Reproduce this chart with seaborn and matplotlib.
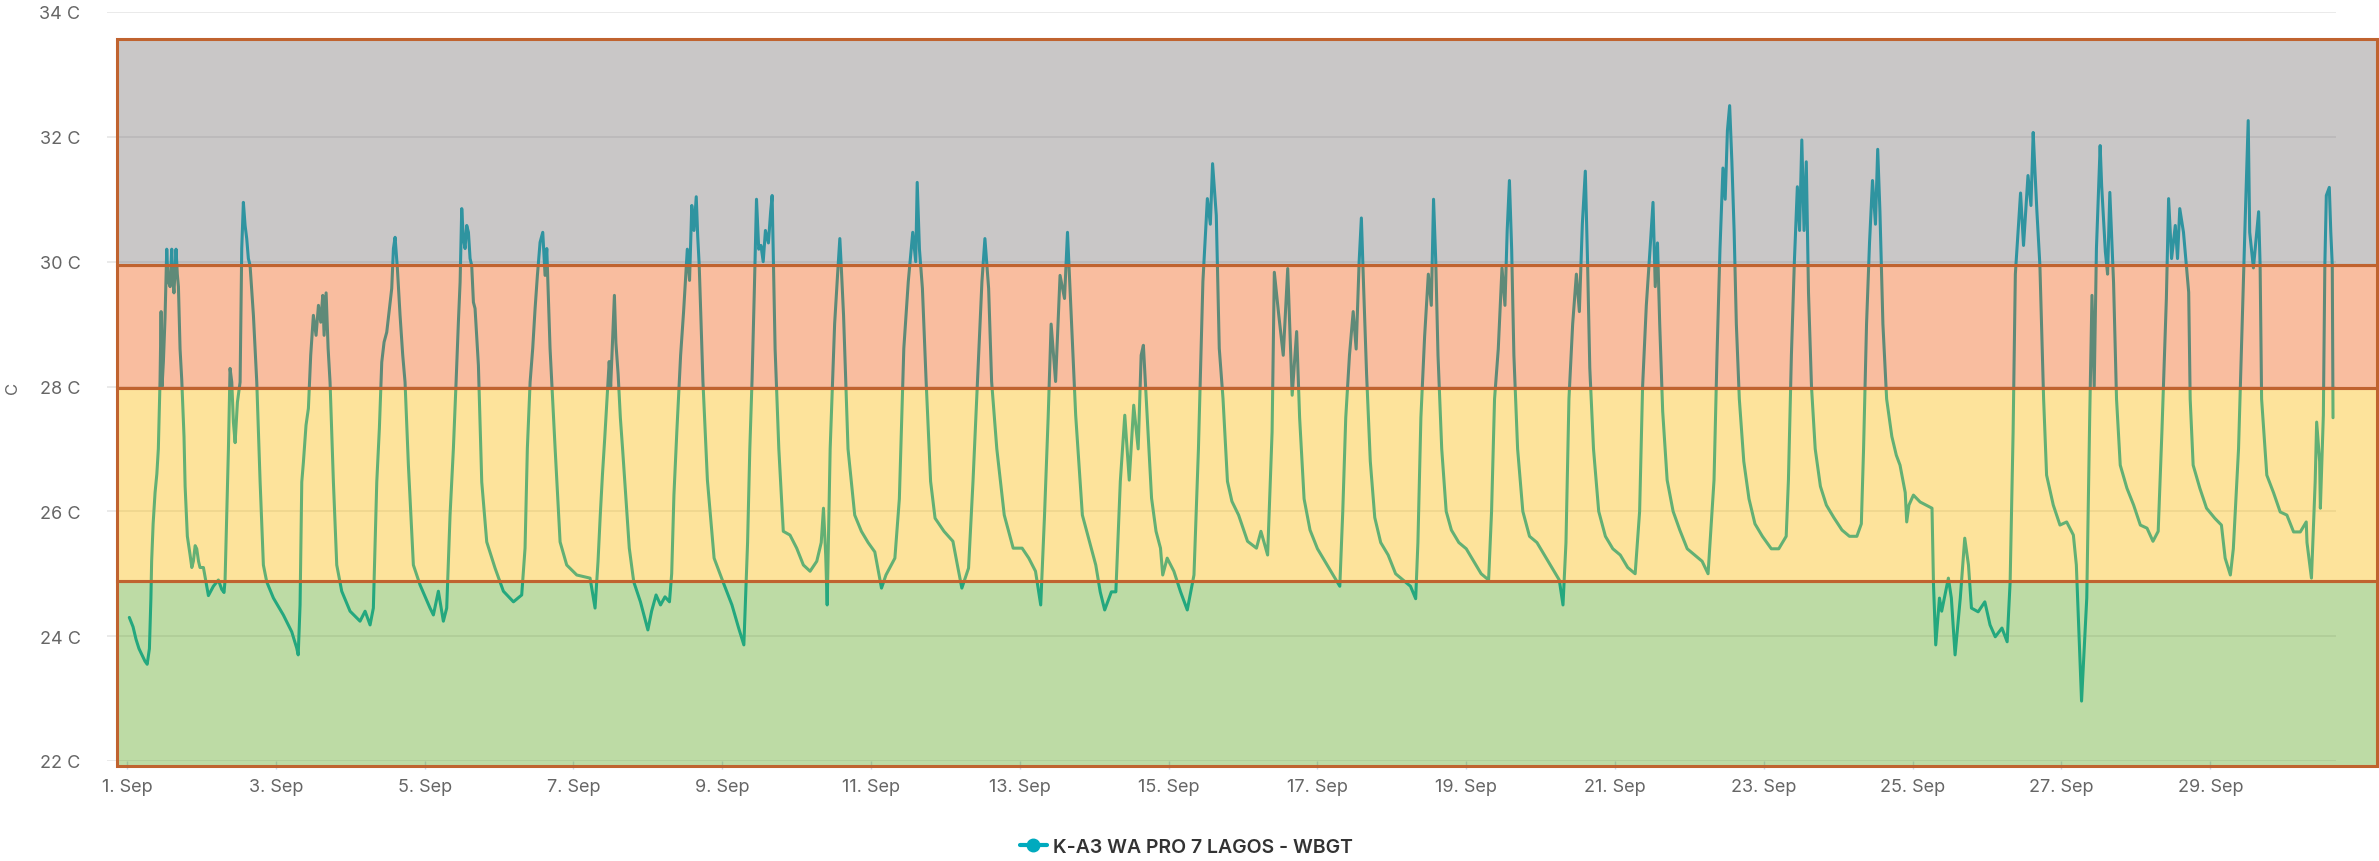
import pandas as pd
import matplotlib
matplotlib.use("Agg")
import matplotlib.pyplot as plt
import matplotlib.dates as mdates
import matplotlib.transforms as mtransforms
from matplotlib.patches import Rectangle
from matplotlib.lines import Line2D
from matplotlib.colors import to_rgba
import seaborn as sns

# WBGT readings: time in days since 1 Sep 00:00, value in C (one row per day)
t_days = [
    0.03, 0.08, 0.12, 0.16, 0.2, 0.24, 0.27, 0.3, 0.32, 0.33, 0.35, 0.376, 0.4, 0.42, 0.443, 0.457, 0.47, 0.488, 0.51, 0.533, 0.55, 0.578, 0.6, 0.615, 0.63, 0.658, 0.675, 0.69, 0.712, 0.735, 0.748, 0.765, 0.78, 0.81, 0.847, 0.87, 0.891, 0.915, 0.936, 0.96, 0.98, 1.026, 1.093, 1.16, 1.227, 1.272, 1.303,
    1.317, 1.34, 1.362, 1.384, 1.407, 1.429, 1.452, 1.483, 1.519, 1.541, 1.563, 1.586, 1.608, 1.63, 1.653, 1.698, 1.743, 1.788, 1.832, 1.877, 1.967, 2.1, 2.213, 2.28, 2.3,
    2.325, 2.348, 2.37, 2.405, 2.437, 2.468, 2.504, 2.54, 2.572, 2.603, 2.63, 2.648, 2.675, 2.702, 2.728, 2.773, 2.818, 2.885, 2.997, 3.131, 3.199, 3.266, 3.31,
    3.356, 3.391, 3.423, 3.454, 3.49, 3.526, 3.557, 3.58, 3.602, 3.633, 3.669, 3.705, 3.736, 3.781, 3.848, 3.938, 4.072, 4.117, 4.184, 4.251, 4.296,
    4.341, 4.386, 4.422, 4.453, 4.476, 4.498, 4.52, 4.543, 4.565, 4.588, 4.61, 4.632, 4.655, 4.677, 4.722, 4.767, 4.834, 4.946, 5.058, 5.193, 5.304,
    5.349, 5.38, 5.417, 5.452, 5.484, 5.515, 5.551, 5.587, 5.618, 5.641, 5.663, 5.685, 5.753, 5.82, 5.909, 6.044, 6.223, 6.29,
    6.33, 6.36, 6.39, 6.42, 6.45, 6.48, 6.5, 6.53, 6.55, 6.57, 6.6, 6.63, 6.66, 6.75, 6.81, 6.9, 7.0, 7.05, 7.11, 7.17, 7.23, 7.29,
    7.32, 7.35, 7.39, 7.44, 7.48, 7.53, 7.56, 7.59, 7.62, 7.65, 7.67, 7.69, 7.74, 7.8, 7.89, 8.01, 8.13, 8.22, 8.29,
    8.34, 8.37, 8.4, 8.43, 8.46, 8.49, 8.52, 8.55, 8.58, 8.62, 8.65, 8.67, 8.69, 8.71, 8.76, 8.82, 8.91, 9.0, 9.09, 9.18, 9.27, 9.33, 9.36, 9.39, 9.41,
    9.45, 9.51, 9.55, 9.58, 9.6, 9.63, 9.69, 9.78, 9.87, 9.96, 10.05, 10.14, 10.2, 10.32,
    10.38, 10.44, 10.5, 10.56, 10.6, 10.62, 10.65, 10.69, 10.74, 10.8, 10.86, 10.98, 11.1, 11.16, 11.22, 11.31,
    11.37, 11.43, 11.49, 11.53, 11.58, 11.62, 11.69, 11.79, 11.91, 12.03, 12.12, 12.21, 12.28,
    12.33, 12.38, 12.42, 12.48, 12.54, 12.6, 12.64, 12.69, 12.75, 12.84, 12.96, 13.02, 13.08, 13.14, 13.23, 13.29,
    13.35, 13.41, 13.47, 13.53, 13.59, 13.63, 13.66, 13.71, 13.77, 13.83, 13.89, 13.92, 13.98, 14.07, 14.16, 14.25, 14.34,
    14.4, 14.46, 14.52, 14.56, 14.59, 14.64, 14.68, 14.73, 14.79, 14.85, 14.94, 15.06, 15.18, 15.24, 15.33,
    15.39, 15.42, 15.48, 15.54, 15.6, 15.66, 15.72, 15.76, 15.82, 15.9, 16.0, 16.1, 16.2, 16.3,
    16.34, 16.38, 16.43, 16.48, 16.52, 16.56, 16.59, 16.62, 16.66, 16.71, 16.77, 16.85, 16.95, 17.05, 17.15, 17.25, 17.32,
    17.35, 17.39, 17.44, 17.49, 17.53, 17.56, 17.59, 17.62, 17.67, 17.73, 17.8, 17.9, 18.0, 18.1, 18.2, 18.3,
    18.34, 18.38, 18.43, 18.48, 18.52, 18.55, 18.58, 18.61, 18.64, 18.69, 18.76, 18.85, 18.95, 19.05, 19.15, 19.25, 19.3,
    19.34, 19.38, 19.43, 19.48, 19.52, 19.56, 19.6, 19.63, 19.66, 19.71, 19.78, 19.87, 19.97, 20.07, 20.17, 20.27,
    20.33, 20.37, 20.42, 20.47, 20.51, 20.54, 20.57, 20.6, 20.64, 20.7, 20.78, 20.87, 20.97, 21.07, 21.17, 21.25,
    21.33, 21.37, 21.41, 21.45, 21.48, 21.51, 21.54, 21.57, 21.6, 21.63, 21.67, 21.73, 21.8, 21.88, 21.98, 22.1, 22.2, 22.3,
    22.33, 22.37, 22.41, 22.45, 22.48, 22.51, 22.54, 22.57, 22.6, 22.64, 22.69, 22.76, 22.84, 22.94, 23.05, 23.15, 23.25, 23.31,
    23.34, 23.38, 23.42, 23.46, 23.5, 23.53, 23.56, 23.6, 23.65, 23.72, 23.78, 23.83, 23.9, 23.92, 23.95, 24.01, 24.1, 24.26,
    24.28, 24.31, 24.36, 24.39, 24.48, 24.52, 24.57, 24.64, 24.7, 24.75, 24.79, 24.88, 24.97, 25.04, 25.11, 25.2, 25.27, 25.31, 25.35,
    25.38, 25.45, 25.49, 25.55, 25.59, 25.62, 25.64, 25.67, 25.71, 25.76, 25.8, 25.89, 25.98, 26.07, 26.16, 26.2, 26.27, 26.34, 26.38,
    26.41, 26.44, 26.47, 26.52, 26.54, 26.59, 26.62, 26.65, 26.7, 26.74, 26.79, 26.88, 26.97, 27.06, 27.15, 27.23, 27.3, 27.35,
    27.41, 27.44, 27.48, 27.53, 27.56, 27.59, 27.64, 27.71, 27.73, 27.77, 27.86, 27.95, 28.06, 28.15, 28.2, 28.27, 28.31, 28.38,
    28.44, 28.47, 28.51, 28.53, 28.58, 28.65, 28.67, 28.69, 28.76, 28.85, 28.94, 29.03, 29.12, 29.21, 29.29, 29.3, 29.36, 29.41, 29.43, 29.47, 29.48, 29.52,
    29.54, 29.56, 29.6, 29.62, 29.64, 29.65,
]
wbgt = [
    24.3, 24.15, 23.95, 23.8, 23.7, 23.6, 23.55, 23.8, 24.6, 25.2, 25.8, 26.3, 26.6, 27.0, 28.1, 29.2, 28.0, 28.4, 29.1, 30.2, 29.7, 29.6, 30.2, 29.7, 29.5, 30.2, 29.8, 29.6, 28.6, 28.1, 27.7, 27.2, 26.4, 25.6, 25.3, 25.1, 25.2, 25.45, 25.4, 25.2, 25.1, 25.1, 24.65, 24.8, 24.9, 24.75, 24.7,
    24.9, 25.94, 27.0, 28.29, 28.07, 27.43, 27.1, 27.75, 28.07, 30.21, 30.95, 30.58, 30.37, 30.05, 29.94, 29.14, 28.07, 26.47, 25.14, 24.87, 24.61, 24.34, 24.07, 23.81, 23.7,
    24.5, 26.47, 26.79, 27.38, 27.65, 28.5, 29.14, 28.82, 29.3, 29.03, 29.46, 28.82, 29.5, 28.61, 28.07, 26.47, 25.14, 24.72, 24.4, 24.24, 24.4, 24.18, 24.45,
    26.47, 27.33, 28.39, 28.71, 28.87, 29.25, 29.57, 30.21, 30.39, 29.89, 29.14, 28.5, 28.07, 26.74, 25.14, 24.82, 24.45, 24.34, 24.72, 24.24, 24.45,
    25.94, 27.01, 28.07, 29.03, 29.67, 30.85, 30.37, 30.21, 30.58, 30.47, 30.05, 29.94, 29.35, 29.25, 28.34, 26.47, 25.51, 25.09, 24.72, 24.55, 24.66,
    25.41, 27.01, 28.07, 28.61, 29.25, 29.78, 30.31, 30.47, 29.78, 30.21, 29.41, 28.61, 27.01, 25.51, 25.14, 24.98, 24.93, 24.45,
    25.2, 25.94, 26.6, 27.17, 27.8, 28.4, 28.0, 28.9, 29.46, 28.7, 28.2, 27.5, 27.0, 25.41, 24.87, 24.55, 24.1, 24.4, 24.66, 24.5, 24.63, 24.55,
    25.0, 26.26, 27.3, 28.5, 29.2, 30.2, 29.7, 30.9, 30.5, 31.04, 30.4, 29.94, 28.08, 26.5, 25.25, 24.87, 24.5, 24.13, 23.86,
    25.5, 27.0, 28.1, 29.5, 31.0, 30.2, 30.26, 30.0, 30.5, 30.3, 30.8, 31.06, 29.8, 28.6, 27.0, 25.68, 25.62, 25.41, 25.14, 25.04, 25.2, 25.5, 26.05, 25.3, 24.5,
    27.0, 29.0, 29.8, 30.37, 29.9, 29.14, 27.0, 25.94, 25.68, 25.5, 25.35, 24.77, 24.98, 25.25,
    26.2, 28.61, 29.68, 30.47, 30.0, 31.27, 30.2, 29.57, 28.08, 26.48, 25.89, 25.68, 25.52, 25.14, 24.77, 25.09,
    26.48, 28.08, 29.68, 30.37, 29.57, 28.08, 27.0, 25.94, 25.41, 25.41, 25.25, 25.04, 24.5,
    25.9, 27.5, 29.0, 28.08, 29.78, 29.41, 30.47, 29.14, 27.54, 25.94, 25.41, 25.14, 24.71, 24.42, 24.71, 24.71,
    26.48, 27.54, 26.5, 27.7, 27.0, 28.5, 28.66, 27.54, 26.21, 25.68, 25.41, 24.98, 25.25, 25.04, 24.71, 24.42, 24.98,
    27.0, 29.68, 31.01, 30.6, 31.57, 30.74, 28.61, 27.81, 26.48, 26.16, 25.94, 25.52, 25.41, 25.68, 25.3,
    27.27, 29.83, 29.14, 28.5, 29.89, 27.86, 28.88, 27.5, 26.2, 25.7, 25.4, 25.2, 25.0, 24.8,
    26.0, 27.5, 28.5, 29.2, 28.6, 30.0, 30.7, 29.6, 28.2, 26.8, 25.9, 25.5, 25.3, 25.0, 24.9, 24.8, 24.6,
    25.5, 27.5, 28.8, 29.8, 29.3, 31.0, 30.0, 28.5, 27.0, 26.0, 25.7, 25.5, 25.4, 25.2, 25.0, 24.9,
    26.0, 27.8, 28.6, 29.9, 29.3, 30.5, 31.3, 30.2, 28.5, 27.0, 26.0, 25.6, 25.5, 25.3, 25.1, 24.9, 24.5,
    25.5, 27.8, 29.0, 29.8, 29.2, 30.6, 31.45, 30.0, 28.3, 27.0, 26.0, 25.6, 25.4, 25.3, 25.1, 25.0,
    26.0, 28.0, 29.3, 30.2, 30.95, 29.6, 30.3, 29.0, 27.6, 26.5, 26.0, 25.7, 25.4, 25.3, 25.2, 25.0,
    26.5, 28.5, 30.2, 31.5, 31.0, 32.1, 32.5, 31.6, 30.5, 29.0, 27.8, 26.8, 26.2, 25.8, 25.6, 25.4, 25.4, 25.6,
    26.5, 28.5, 30.0, 31.2, 30.5, 31.95, 30.5, 31.6, 29.5, 28.0, 27.0, 26.4, 26.1, 25.9, 25.7, 25.6, 25.6, 25.8,
    27.0, 29.0, 30.3, 31.3, 30.6, 31.8, 30.8, 29.0, 27.8, 27.2, 26.9, 26.74, 26.3, 25.83, 26.1, 26.26, 26.15, 26.05,
    24.82, 23.86, 24.61, 24.4, 24.93, 24.61, 23.7, 24.61, 25.57, 25.14, 24.45, 24.39, 24.55, 24.18, 23.99, 24.13, 23.91, 24.87, 27.27,
    29.8, 31.1, 30.26, 31.38, 30.9, 32.07, 31.54, 30.8, 29.94, 27.8, 26.58, 26.1, 25.78, 25.83, 25.62, 25.14, 22.96, 24.61, 27.54,
    29.46, 28.0, 30.21, 31.86, 31.22, 30.16, 29.8, 31.11, 29.67, 27.8, 26.74, 26.37, 26.1, 25.78, 25.73, 25.52, 25.68, 27.27,
    29.41, 31.01, 30.05, 30.58, 30.05, 30.85, 30.47, 29.51, 27.8, 26.74, 26.37, 26.05, 25.89, 25.78, 25.25, 24.98, 25.4, 27.0,
    29.5, 30.69, 32.26, 30.47, 29.9, 30.8, 29.94, 27.8, 26.58, 26.3, 25.99, 25.94, 25.67, 25.67, 25.83, 25.5, 24.93, 26.47, 27.43, 26.8, 26.05, 27.54,
    29.94, 31.06, 31.19, 30.47, 29.94, 27.5,
]

# heat stress bands (bottom edge .. top edge) and their colours
band_edges = [21.92, 24.88, 27.98, 29.94, 33.57]
band_colors = ['#5ca520', '#fabb07', '#f05c11', '#787375']
y_ticks = [22, 24, 26, 28, 30, 32, 34]
series_name = 'K-A3 WA PRO 7 LAGOS - WBGT'

start = pd.Timestamp('2023-09-01')
df = pd.DataFrame({
    'time': start + pd.to_timedelta(t_days, unit='D'),
    'wbgt': wbgt,
})

sns.set_theme(style='white')
plt.rcParams['font.family'] = ['Inter', 'DejaVu Sans']

W, H = 2379, 862
fig = plt.figure(figsize=(W / 100, H / 100), dpi=100)
ax = fig.add_axes([107 / W, 1 - 762 / H, (2336 - 107) / W, (762 - 13) / H])

line_color = '#00aabe'
sns.lineplot(data=df, x='time', y='wbgt', ax=ax, color=line_color, lw=2.2,
             estimator=None, legend=False, zorder=2)

ax.set_ylim(22, 34)
ax.set_xlim(start + pd.Timedelta(days=-0.27), start + pd.Timedelta(days=29.69))
ax.set_yticks(y_ticks)
ax.set_yticklabels([f'{v} C' for v in y_ticks])
ax.xaxis.set_major_locator(mdates.DayLocator(bymonthday=range(1, 31, 2)))
ax.xaxis.set_major_formatter(mdates.DateFormatter('%-d. %b'))
ax.set_xlabel('')
ax.set_ylabel('')

ax.set_axisbelow(True)
ax.yaxis.grid(True, color='#e6e6e6', lw=1.2)
ax.xaxis.grid(False)
for s in ax.spines.values():
    s.set_visible(False)
ax.tick_params(axis='y', length=0, pad=19, labelsize=13, labelcolor='#666666')
ax.tick_params(axis='x', length=6, width=1, color='#ccd6eb', direction='out',
               bottom=True, pad=6, labelsize=13, labelcolor='#666666')

# bands are laid over the line, slightly wider than the plot area
trans = mtransforms.blended_transform_factory(ax.transAxes, ax.transData)
x0 = (117 - 107) / (2336 - 107)
x1 = (2377 - 107) / (2336 - 107)
for lo, hi, c in zip(band_edges[:-1], band_edges[1:], band_colors):
    ax.add_patch(Rectangle((x0, lo), x1 - x0, hi - lo, transform=trans,
                           facecolor=to_rgba(c, 0.4), edgecolor='#c0632f',
                           lw=2.2, clip_on=False, zorder=3))

fig.text(12 / W, 1 - 388 / H, 'C', rotation=90, color='#666666', fontsize=12,
         ha='center', va='center')

handle = Line2D([], [], color=line_color, lw=3, marker='o', ms=9)
fig.legend([handle], [series_name], loc='center', bbox_to_anchor=(1186 / W, 1 - 848 / H),
           frameon=False, handlelength=1.4, handletextpad=0.3,
           prop={'weight': 'semibold', 'size': 14})
for txt in fig.legends[0].get_texts():
    txt.set_color('#333333')

fig.savefig('out.png', dpi=100)
